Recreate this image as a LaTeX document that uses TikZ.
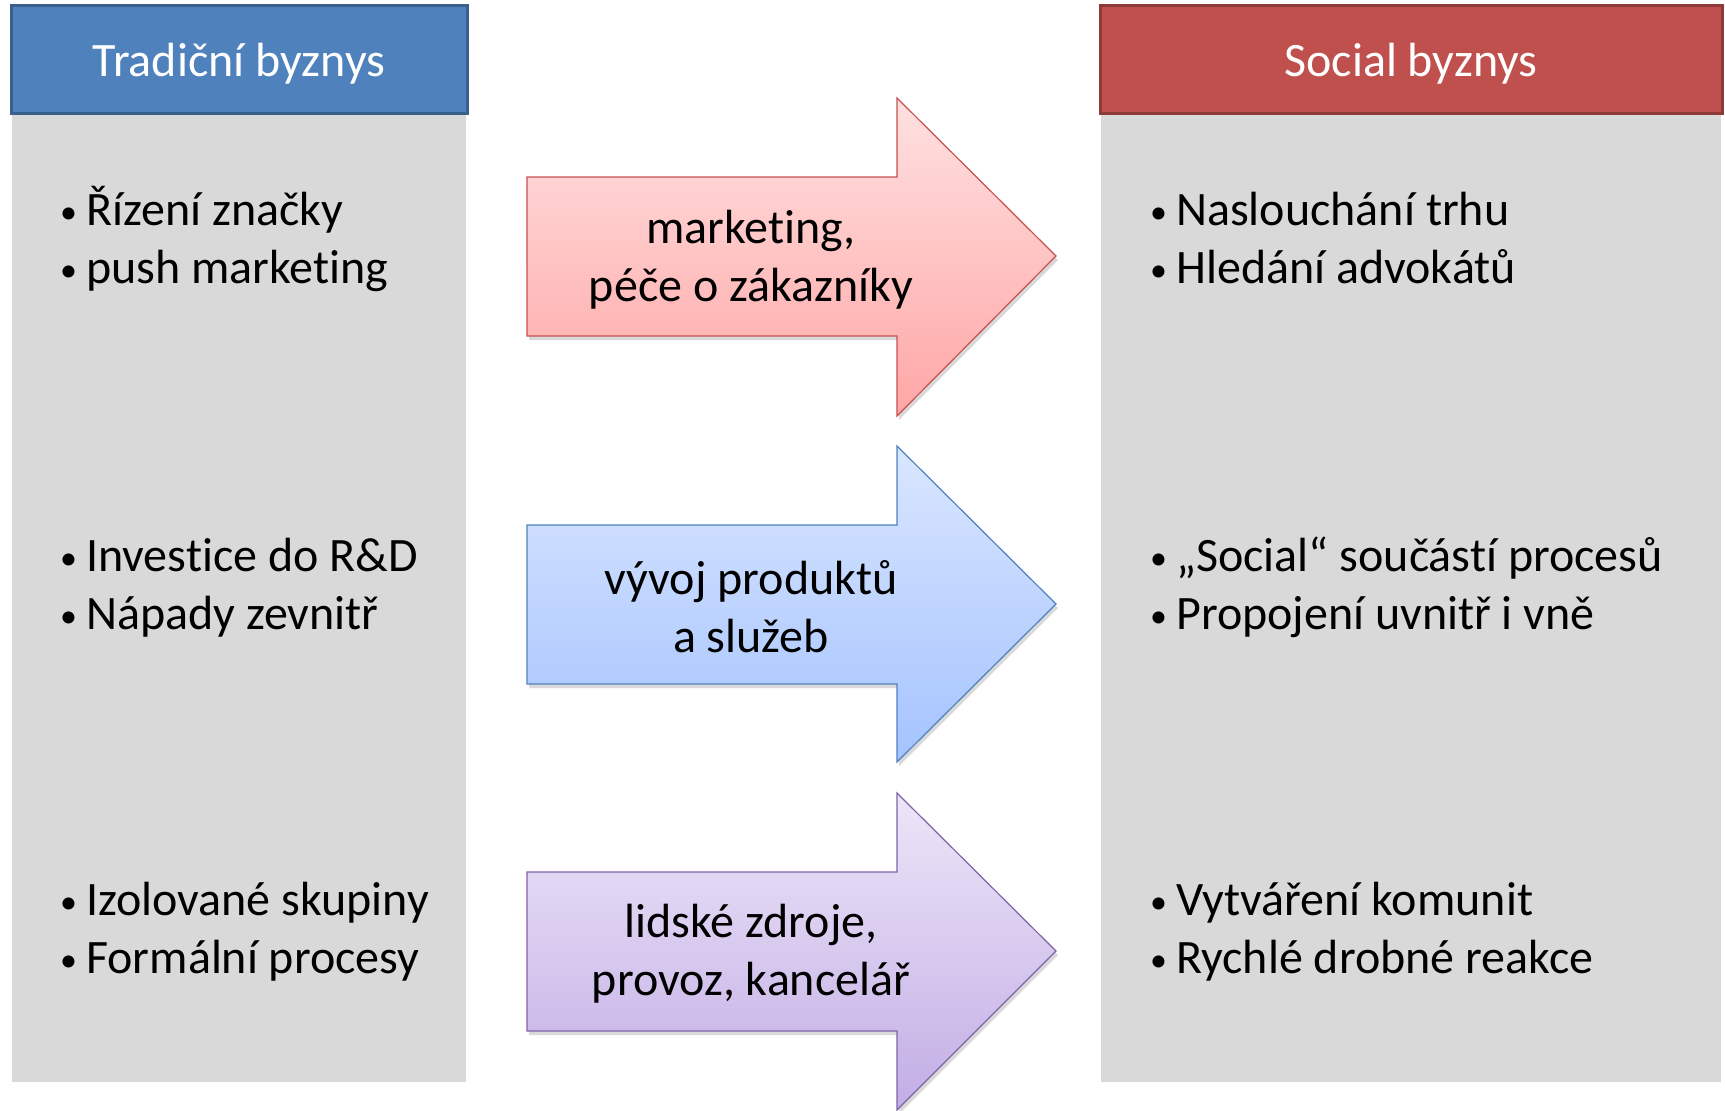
\documentclass[tikz,border=0pt]{standalone}
\usepackage{fontspec}
\setmainfont{Carlito}[Ligatures=NoCommon]
\usetikzlibrary{positioning, shadows}

\definecolor{tradblue}{HTML}{4F81BD}
\definecolor{tradline}{HTML}{3A5F8C}
\definecolor{socred}{HTML}{C0504D}
\definecolor{socline}{HTML}{8E3A38}
\definecolor{panelgray}{HTML}{D9D9D9}
\definecolor{mktop}{HTML}{FFE1E1}
\definecolor{mkbot}{HTML}{FFA6A6}
\definecolor{mkline}{HTML}{C85050}
\definecolor{devtop}{HTML}{DAE6FF}
\definecolor{devbot}{HTML}{A4C3FF}
\definecolor{devline}{HTML}{4F81BD}
\definecolor{opstop}{HTML}{EDE6F8}
\definecolor{opsbot}{HTML}{C2ADE5}
\definecolor{opsline}{HTML}{7F63A8}

\newcommand\bul{\makebox[26pt][l]{\fontsize{34}{58}\selectfont\raisebox{2pt}{•}}}

\begin{document}
\begin{tikzpicture}[
    x=1pt, y=-1pt,
    every node/.style={font=\fontsize{48}{58}\selectfont},
    hdr/.style={rectangle, draw, line width=3pt, text=white,
                minimum height=108pt, inner sep=0pt,
                text height=47pt, text depth=12pt},
    panel/.style={rectangle, fill=panelgray, minimum height=967pt, inner sep=0pt},
    items/.style={align=left, anchor=base west, inner sep=0pt},
    flow/.style={line width=1.2pt,
                 drop shadow={opacity=0.3, shadow xshift=2pt, shadow yshift=-4pt}},
    flowtext/.style={align=center, inner sep=0pt}
  ]
    \useasboundingbox (0,0) rectangle (1725,1111);

    % Column headers
    \node[hdr, fill=tradblue, draw=tradline, minimum width=456pt] (hdrL) at (239,59) {Tradiční byznys};
    \node[hdr, fill=socred, draw=socline, minimum width=622pt] (hdrR) at (1411,59) {Social byznys};

    % Gray panels
    \node[panel, minimum width=454pt, below=0pt of hdrL] (bodyL) {};
    \node[panel, minimum width=620pt, below=0pt of hdrR] (bodyR) {};

    % Left items (base = last line)
    \node[items] (l1) at (60,283) {\bul Řízení značky\\\bul push marketing};
    \node[items] (l2) at (60,629) {\bul Investice do R\&D\\\bul Nápady zevnitř};
    \node[items] (l3) at (60,973) {\bul Izolované skupiny\\\bul Formální procesy};

    % Right items
    \node[items] (r1) at (1150,283) {\bul Naslouchání trhu\\\bul Hledání advokátů};
    \node[items] (r2) at (1150,629) {\bul „Social“ součástí procesů\\\bul Propojení uvnitř i vně};
    \node[items] (r3) at (1150,973) {\bul Vytváření komunit\\\bul Rychlé drobné reakce};

    % Arrows
    \path[flow, draw=mkline, top color=mktop, bottom color=mkbot]
      (527,177) -- (897,177) -- (897,98) -- (1056,256) -- (897,416) -- (897,336) -- (527,336) -- cycle;
    \path[flow, draw=devline, top color=devtop, bottom color=devbot]
      (527,525) -- (897,525) -- (897,446) -- (1056,604) -- (897,762) -- (897,684) -- (527,684) -- cycle;
    \path[flow, draw=opsline, top color=opstop, bottom color=opsbot]
      (527,872) -- (897,872) -- (897,793) -- (1056,951) -- (897,1110) -- (897,1031) -- (527,1031) -- cycle;

    % Arrow texts
    \node[flowtext] (tMkt) at (751,260) {marketing,\\péče o zákazníky};
    \node[flowtext] (tDev) at (751,607) {vývoj produktů\\a služeb};
    \node[flowtext] (tOps) at (751,954) {lidské zdroje,\\provoz, kancelář};
  \end{tikzpicture}
\end{document}
